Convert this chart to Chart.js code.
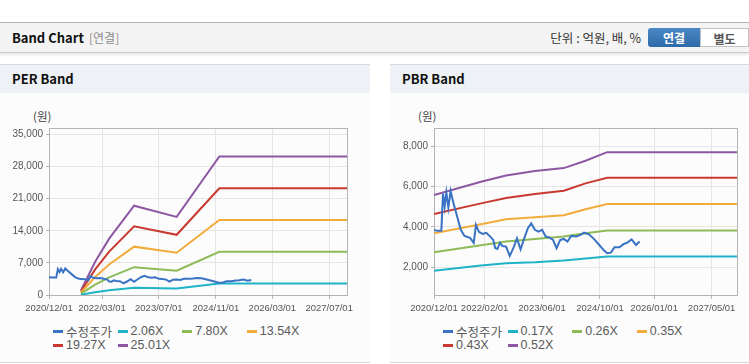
<!DOCTYPE html>
<html>
<head>
<meta charset="utf-8">
<script src="https://cdn.jsdelivr.net/npm/chart.js@4.4.1/dist/chart.umd.min.js"></script>
<style>
  body { margin: 0; width: 749px; height: 364px; overflow: hidden; background: #fff; position: relative;
         font-family: "Noto Sans CJK KR", "Noto Sans", sans-serif; }
  .top { position: absolute; left: 0; top: 22px; width: 749px; height: 29px; background: #f4f4f4;
         border-top: 1px solid #b4b4b4; border-bottom: 1px solid #c8c8c8; box-shadow: 0 2px 3px rgba(0,0,0,.10); }
  .top .ttl { position: absolute; left: 12px; top: 5px; font-size: 13px; font-weight: bold; color: #111; }
  .top .sub { position: absolute; left: 89px; top: 6px; font-size: 12px; color: #8a8a8a; }
  .top .unit { position: absolute; right: 108px; top: 5px; font-size: 12.5px; color: #333; }
  .btn { position: absolute; top: 5px; height: 19px; line-height: 19px; text-align: center; font-size: 12px; font-weight: bold; box-sizing: border-box; }
  .btn.on { left: 648px; width: 52px; background: linear-gradient(#4a88c6, #2f6aa8); color: #fff; border-radius: 3px 0 0 3px; }
  .btn.off { left: 700px; width: 49px; background: #fff; color: #555; border: 1px solid #c2c2c2; }
  .panel { position: absolute; top: 64px; height: 297px; background: #fcfcfc; border-top: 1px solid #d8d8d8; border-bottom: 1px solid #d8d8d8; }
  .panel h2 { margin: 0; height: 28px; line-height: 28px; background: #eef1f6; font-size: 13px; padding-left: 12px; color: #111; }
  .panel canvas { position: absolute; left: 0; top: 28px; }
  .unitY { position: absolute; top: 43px; font-size: 11.5px; color: #444; }
  .legend { position: absolute; left: 53px; top: 259px; display: grid; grid-template-columns: repeat(4, 64.6px);
            row-gap: 0; font-family: "Liberation Sans", Arial, sans-serif; font-size: 12.5px; color: #5a5a5a; }
  .legend div { display: flex; align-items: center; height: 14px; white-space: nowrap; }
  .legend i { display: inline-block; width: 10px; height: 3px; margin-right: 3px; }
  .legend .kr { font-family: "Noto Sans CJK KR", sans-serif; }
</style>
</head>
<body>
<div class="top">
  <span class="ttl">Band Chart</span><span class="sub">[연결]</span>
  <span class="unit">단위 : 억원, 배, %</span>
  <span class="btn on">연결</span><span class="btn off">별도</span>
</div>

<div class="panel" style="left:0;width:370px">
  <h2>PER Band</h2>
  <span class="unitY" style="left:33px">(원)</span>
  <canvas id="per" width="370" height="225"></canvas>
  <div class="legend" id="perLegend"></div>
</div>

<div class="panel" style="left:390px;width:359px">
  <h2>PBR Band</h2>
  <span class="unitY" style="left:28px">(원)</span>
  <canvas id="pbr" width="359" height="225"></canvas>
  <div class="legend" id="pbrLegend"></div>
</div>

<script>
// x axis range and ticks
const xStart = '2020/12/01';
const xEnd = '2027/12/01';
const perTicksX = ['2020/12/01', '2022/03/01', '2023/07/01', '2024/11/01', '2026/03/01', '2027/07/01'];
const pbrTicksX = ['2020/12/01', '2022/02/01', '2023/06/01', '2024/10/01', '2026/01/01', '2027/05/01'];
const perTicksY = [0, 7000, 14000, 21000, 28000, 35000];
const pbrTicksY = [2000, 4000, 6000, 8000];

// 수정주가 (same series on both charts)
const priceDates = [
  '2020/12/01', '2021/01/01', '2021/02/01', '2021/02/15', '2021/03/01', '2021/03/15', '2021/04/01', '2021/04/20',
  '2021/05/15', '2021/06/15', '2021/07/15', '2021/08/15', '2021/10/01', '2021/11/01', '2021/11/20', '2021/12/15',
  '2022/01/15', '2022/02/15', '2022/03/15', '2022/04/15', '2022/05/01', '2022/05/20', '2022/06/10', '2022/07/01',
  '2022/08/01', '2022/09/01', '2022/10/01', '2022/11/01', '2022/12/01', '2023/01/01', '2023/02/01', '2023/03/01',
  '2023/04/01', '2023/05/01', '2023/06/01', '2023/07/01', '2023/08/01', '2023/09/01', '2023/10/01', '2023/11/01',
  '2023/12/01', '2024/01/01', '2024/02/01', '2024/03/15', '2024/04/20', '2024/05/20', '2024/07/01', '2024/08/15',
  '2024/09/25', '2024/11/05', '2024/12/01', '2025/01/01', '2025/02/01', '2025/03/15', '2025/04/20', '2025/05/20',
  '2025/06/25', '2025/08/01', '2025/09/01'
];
const priceValues = [
  3850, 3800, 3800, 5650, 5000, 5700, 4950, 5780,
  5150, 4500, 3850, 3550, 3450, 3200, 4100, 3750,
  3650, 3700, 3550, 3350, 2950, 2900, 3200, 3050,
  3020, 2560, 2940, 3430, 2890, 3430, 3930, 4170,
  3850, 3760, 3850, 3520, 3480, 3350, 2940, 3350,
  3400, 3270, 3550, 3520, 3600, 3710, 3630, 3380,
  3100, 2820, 2690, 2720, 2990, 2990, 3150, 3220,
  3380, 3100, 3270
];

// PER band lines
const perBandDates = ['2021/09/01', '2022/01/01', '2022/05/01', '2022/12/01', '2023/12/01', '2024/12/01', '2027/12/01'];
const per206 = [82, 595, 1011, 1603, 1403, 2486, 2486];
const per780 = [312, 2254, 3830, 6068, 5312, 9415, 9415];
const per1354 = [542, 3913, 6648, 10534, 9221, 16343, 16343];
const per1927 = [771, 5569, 9461, 14992, 13123, 23259, 23259];
const per2501 = [1000, 7228, 12280, 19458, 17032, 30188, 30188];

// PBR band lines
const pbrBandDates = ['2020/12/01', '2022/01/01', '2022/08/01', '2023/04/01', '2023/12/01', '2024/06/01', '2024/12/01', '2027/12/01'];
const pbr017 = [1816, 2080, 2196, 2245, 2327, 2426, 2525, 2525];
const pbr026 = [2740, 3086, 3267, 3399, 3515, 3680, 3812, 3812];
const pbr035 = [3680, 4125, 4372, 4471, 4570, 4867, 5131, 5131];
const pbr043 = [4636, 5164, 5428, 5626, 5790, 6153, 6433, 6433];
const pbr052 = [5576, 6236, 6549, 6763, 6912, 7274, 7703, 7703];

const colors = ['#3a72c4', '#1fb3c8', '#8dbb57', '#f1ac3c', '#c9392f', '#8d57a3'];

const toTime = s => { const p = s.split('/').map(Number); return Date.UTC(p[0], p[1] - 1, p[2]); };
const pad = n => String(n).padStart(2, '0');
const fmtDate = v => { const d = new Date(v); return d.getUTCFullYear() + '/' + pad(d.getUTCMonth() + 1) + '/' + pad(d.getUTCDate()); };
const pts = (dates, vals) => dates.map((d, i) => ({ x: toTime(d), y: vals[i] }));

Chart.defaults.font.family = '"Liberation Sans", Arial, sans-serif';
Chart.defaults.font.size = 9.5;
Chart.defaults.color = '#555';

const frame = {
  id: 'frame',
  beforeDatasetsDraw(chart) {
    const a = chart.chartArea, c = chart.ctx;
    c.save();
    c.strokeStyle = '#b4b4b4';
    c.lineWidth = 1;
    c.strokeRect(Math.round(a.left) + 0.5, Math.round(a.top) + 0.5, Math.round(a.right - a.left), Math.round(a.bottom - a.top));
    c.restore();
  }
};

function makeChart(id, legendId, series, labels, ticksX, ticksY, yMin, yMax, padRight, yWidth) {
  const datasets = series.map((s, i) => ({
    label: labels[i],
    data: s,
    borderColor: colors[i],
    backgroundColor: colors[i],
    borderWidth: 2,
    pointRadius: 0,
    tension: 0
  }));
  const chart = new Chart(document.getElementById(id), {
    type: 'line',
    data: { datasets },
    plugins: [frame],
    options: {
      responsive: false,
      animation: false,
      layout: { padding: { top: 35, right: padRight, left: 0, bottom: 0 } },
      plugins: { legend: { display: false }, tooltip: { enabled: false } },
      scales: {
        x: {
          type: 'linear',
          min: toTime(xStart),
          max: toTime(xEnd),
          afterBuildTicks: s => { s.ticks = ticksX.map(t => ({ value: toTime(t) })); },
          afterFit: s => { s.height = 23; },
          grid: { color: '#e6e6e6', tickColor: '#b4b4b4', tickLength: 4 },
          border: { color: '#b4b4b4' },
          ticks: { autoSkip: false, maxRotation: 0, minRotation: 0, padding: 4, callback: v => fmtDate(v) }
        },
        y: {
          min: yMin,
          max: yMax,
          afterBuildTicks: s => { s.ticks = ticksY.map(v => ({ value: v })); },
          afterFit: s => { s.width = yWidth; },
          grid: { color: '#e6e6e6', tickColor: '#b4b4b4', tickLength: 3 },
          border: { color: '#b4b4b4' },
          ticks: { padding: 3, font: { size: 10 }, callback: v => v.toLocaleString('en-US') }
        }
      }
    }
  });
  const lg = document.getElementById(legendId);
  labels.forEach((l, i) => {
    const d = document.createElement('div');
    d.innerHTML = '<i style="background:' + colors[i] + '"></i><span' + (i === 0 ? ' class="kr"' : '') + '>' + l + '</span>';
    lg.appendChild(d);
  });
  return chart;
}

makeChart('per', 'perLegend',
  [pts(priceDates, priceValues), pts(perBandDates, per206), pts(perBandDates, per780),
   pts(perBandDates, per1354), pts(perBandDates, per1927), pts(perBandDates, per2501)],
  ['수정주가', '2.06X', '7.80X', '13.54X', '19.27X', '25.01X'],
  perTicksX, perTicksY, 0, 36400, 23, 49);

makeChart('pbr', 'pbrLegend',
  [pts(priceDates, priceValues), pts(pbrBandDates, pbr017), pts(pbrBandDates, pbr026),
   pts(pbrBandDates, pbr035), pts(pbrBandDates, pbr043), pts(pbrBandDates, pbr052)],
  ['수정주가', '0.17X', '0.26X', '0.35X', '0.43X', '0.52X'],
  pbrTicksX, pbrTicksY, 620, 8900, 12, 44);
</script>
</body>
</html>
